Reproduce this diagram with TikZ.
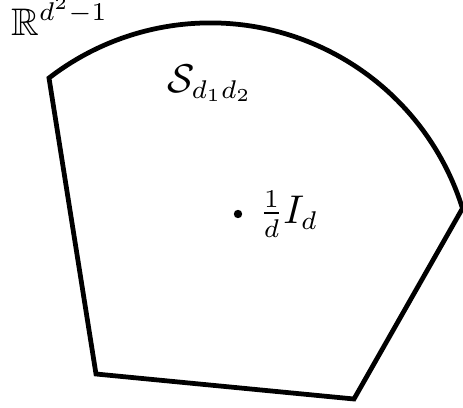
\documentclass[tikz,border=0pt]{standalone}
\usepackage{amsmath,amssymb}
\usetikzlibrary{calc}

\begin{document}
\begin{tikzpicture}[x=0.2732pt,y=0.2732pt,line width=1.3pt,every node/.style={inner sep=0pt,font=\fontsize{10.5}{12}\selectfont},label/.style={anchor=base west}]
\path[use as bounding box] (0,0) rectangle (463,408);

% region boundary
\coordinate (tl) at (49,330);
\coordinate (br) at (354,9);
\coordinate (bl) at (96,34);
\draw[line join=miter] (tl) arc[start angle=127.7,end angle=17.3,radius=264] -- (br) -- (bl) -- cycle;

\node[label] (space) at (9,373) {$\mathbb{R}^{d^2-1}$};
\node[label] (states) at (165,316) {$\mathcal{S}_{d_1d_2}$};
\fill (238,194) circle[radius=4.2] coordinate (mix);
\node[anchor=west] (mixlabel) at ($(mix)+(19,0)$) {$\frac{1}{d}I_d$};

\end{tikzpicture}
\end{document}
